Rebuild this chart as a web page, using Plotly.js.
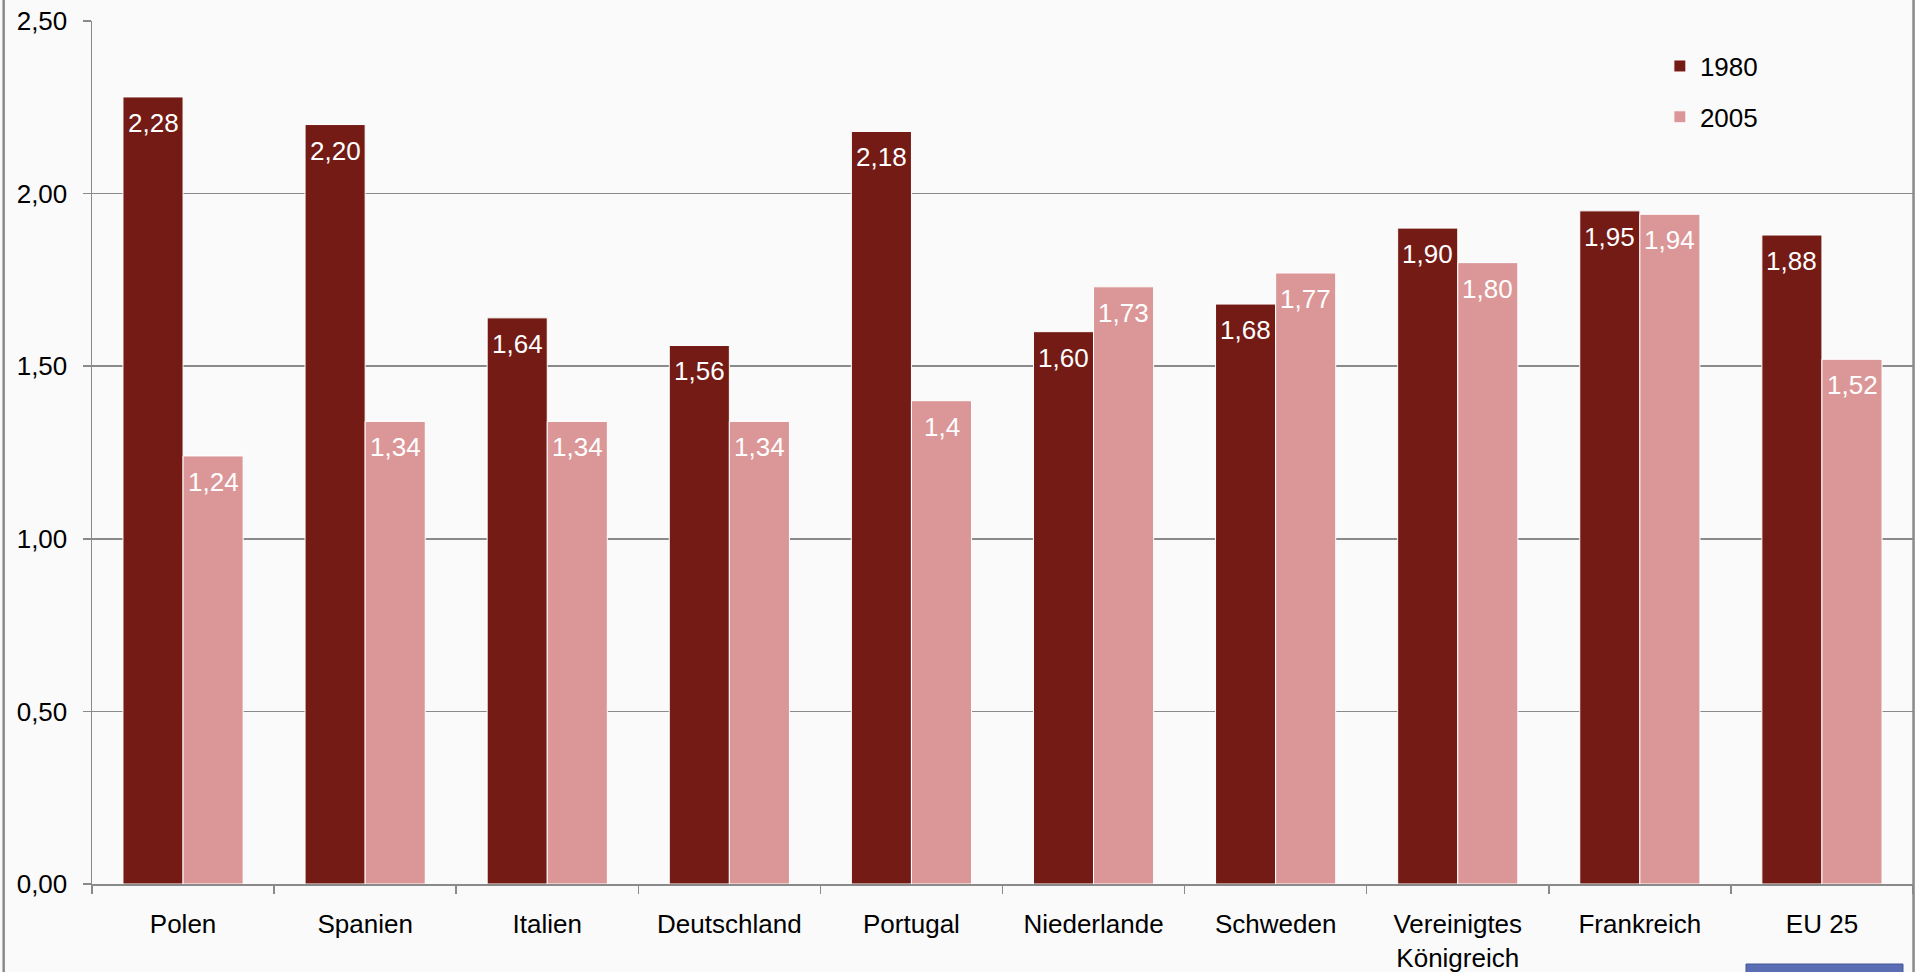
<!DOCTYPE html>
<html>
<head>
<meta charset="utf-8">
<script src="https://cdn.plot.ly/plotly-3.0.1.min.js"></script>
<style>html,body{margin:0;padding:0;background:#fafafa;}</style>
</head>
<body>
<div id="chart" style="width:1915px;height:972px;"></div>
<script>
const categories = ["Polen", "Spanien", "Italien", "Deutschland", "Portugal", "Niederlande", "Schweden", "Vereinigtes<br>Königreich", "Frankreich", "EU 25"];
const seriesNames = ["1980", "2005"];
const values1980 = [2.28, 2.20, 1.64, 1.56, 2.18, 1.60, 1.68, 1.90, 1.95, 1.88];
const values2005 = [1.24, 1.34, 1.34, 1.34, 1.4, 1.73, 1.77, 1.80, 1.94, 1.52];
const labels1980 = ["2,28", "2,20", "1,64", "1,56", "2,18", "1,60", "1,68", "1,90", "1,95", "1,88"];
const labels2005 = ["1,24", "1,34", "1,34", "1,34", "1,4", "1,73", "1,77", "1,80", "1,94", "1,52"];
const yTickVals = [0, 0.5, 1, 1.5, 2, 2.5];
const yTickText = ["0,00", "0,50", "1,00", "1,50", "2,00", "2,50"];

const FONT = "Liberation Sans, Arial, sans-serif";
const FS = 26;
const colors = ["#731b14", "#db9797"];
const bargap = 0.34;

const traces = [
  {type: "bar", name: seriesNames[0], x: categories, y: values1980, legendgroup: "a",
   marker: {color: colors[0], line: {color: "#ffffff", width: 1}}, hoverinfo: "none"},
  {type: "bar", name: seriesNames[1], x: categories, y: values2005, legendgroup: "b",
   marker: {color: colors[1], line: {color: "#ffffff", width: 1}}, hoverinfo: "none"}
];

const off = (1 - bargap) / 4;
const annotations = [];
categories.forEach((c, i) => {
  annotations.push({x: i - off, y: values1980[i], xref: "x", yref: "y", text: labels1980[i],
    showarrow: false, yanchor: "top", yshift: -9, font: {family: FONT, size: FS, color: "#ffffff"}});
  annotations.push({x: i + off, y: values2005[i], xref: "x", yref: "y", text: labels2005[i],
    showarrow: false, yanchor: "top", yshift: -9, font: {family: FONT, size: FS, color: "#ffffff"}});
});

const layout = {
  width: 1915, height: 972,
  margin: {l: 92, r: 2, t: 21, b: 88, pad: 0},
  paper_bgcolor: "#fafafa", plot_bgcolor: "#fafafa",
  font: {family: FONT, size: FS, color: "#000000"},
  barmode: "group", bargap: bargap, bargroupgap: 0,
  showlegend: true,
  legend: {x: 0.861, y: 0.975, xanchor: "left", yanchor: "top", bgcolor: "rgba(0,0,0,0)",
    font: {family: FONT, size: FS, color: "#000000"}, tracegroupgap: 14, traceorder: "grouped"},
  xaxis: {type: "category", showline: true, linecolor: "#8a8a8a", linewidth: 1.5,
    ticks: "outside", tickson: "boundaries", ticklen: 8, tickcolor: "#8a8a8a", tickwidth: 1.5,
    showgrid: false, zeroline: false, ticklabelstandoff: 16,
    tickfont: {family: FONT, size: FS, color: "#000000"}, tickangle: 0},
  yaxis: {range: [0, 2.5], tickvals: yTickVals, ticktext: yTickText, showline: true,
    linecolor: "#8a8a8a", linewidth: 1.5, ticks: "outside", ticklen: 8, tickcolor: "#8a8a8a", tickwidth: 1.5,
    showgrid: true, gridcolor: "#8a8a8a", gridwidth: 1.5, zeroline: false, ticklabelstandoff: 10,
    tickfont: {family: FONT, size: FS, color: "#000000"}},
  annotations: annotations,
  shapes: [
    {type: "line", xref: "paper", yref: "paper", x0: -0.0485, x1: -0.0485, y0: -0.11, y1: 1.03,
     line: {color: "#8a8a8a", width: 2.5}},
    {type: "line", xref: "paper", yref: "paper", x0: 1.0003, x1: 1.0003, y0: -0.11, y1: 1.03,
     line: {color: "#8a8a8a", width: 2.5}},
    {type: "rect", xref: "paper", yref: "paper", x0: 0.9083, x1: 0.9945, y0: -0.0927, y1: -0.11,
     fillcolor: "#5b6eb3", line: {color: "#44549a", width: 1}}
  ]
};

Plotly.newPlot("chart", traces, layout, {displayModeBar: false, staticPlot: true});
</script>
</body>
</html>
